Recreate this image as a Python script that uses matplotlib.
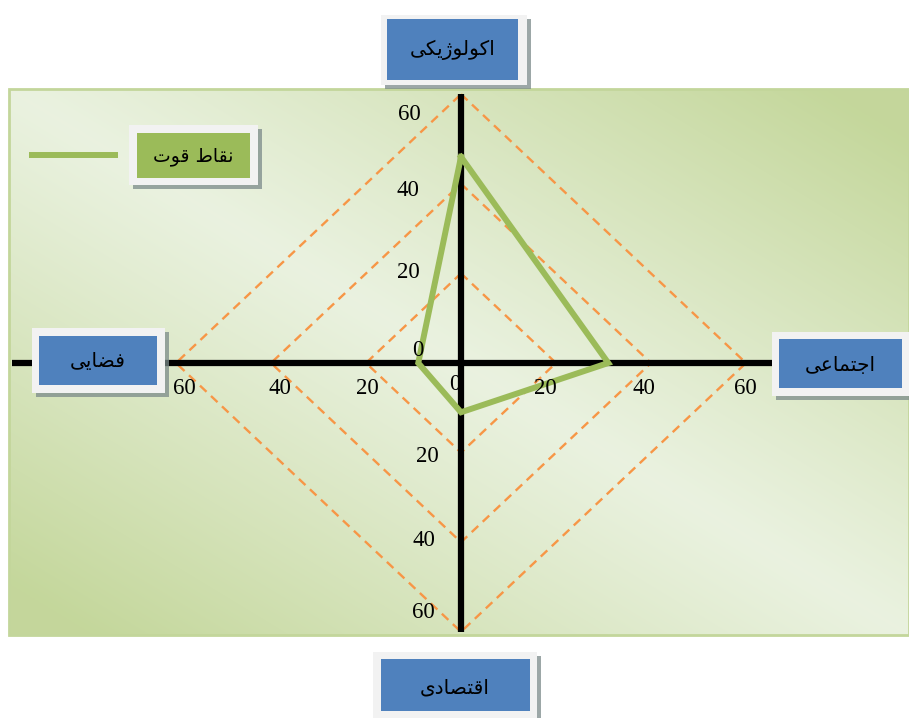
import numpy as np
import matplotlib
matplotlib.use("Agg")
import matplotlib.pyplot as plt
from matplotlib.patches import Rectangle

# ---------------- data ----------------
categories = ["اکولوژیکی", "اجتماعی", "اقتصادی", "فضایی"]   # top, right, bottom, left
series_name = "نقاط قوت"
values = [46, 31, 11, 9]
grid_levels = [20, 40, 60]
tick_labels = ["0", "20", "40", "60"]

# ---------------- simple Arabic/Persian shaping ----------------
FORMS = {  # iso, fin, ini, med
    "ا": ("\uFE8D", "\uFE8E", None, None),
    "د": ("\uFEA9", "\uFEAA", None, None),
    "و": ("\uFEED", "\uFEEE", None, None),
    "ژ": ("\uFB8A", "\uFB8B", None, None),
    "ک": ("\uFB8E", "\uFB8F", "\uFB90", "\uFB91"),
    "ل": ("\uFEDD", "\uFEDE", "\uFEDF", "\uFEE0"),
    "ی": ("\uFBFC", "\uFBFD", "\uFBFE", "\uFBFF"),
    "ج": ("\uFE9D", "\uFE9E", "\uFE9F", "\uFEA0"),
    "ت": ("\uFE95", "\uFE96", "\uFE97", "\uFE98"),
    "م": ("\uFEE1", "\uFEE2", "\uFEE3", "\uFEE4"),
    "ع": ("\uFEC9", "\uFECA", "\uFECB", "\uFECC"),
    "ق": ("\uFED5", "\uFED6", "\uFED7", "\uFED8"),
    "ص": ("\uFEB9", "\uFEBA", "\uFEBB", "\uFEBC"),
    "ف": ("\uFED1", "\uFED2", "\uFED3", "\uFED4"),
    "ض": ("\uFEBD", "\uFEBE", "\uFEBF", "\uFEC0"),
    "ن": ("\uFEE5", "\uFEE6", "\uFEE7", "\uFEE8"),
    "ط": ("\uFEC1", "\uFEC2", "\uFEC3", "\uFEC4"),
}


def shape(s):
    out = []
    n = len(s)
    for i, ch in enumerate(s):
        if ch not in FORMS:
            out.append(ch)
            continue
        f = FORMS[ch]
        dual = f[2] is not None
        prev_ok = i > 0 and s[i - 1] in FORMS and FORMS[s[i - 1]][2] is not None
        next_ok = dual and i < n - 1 and s[i + 1] in FORMS
        if prev_ok and next_ok:
            out.append(f[3])
        elif prev_ok:
            out.append(f[1])
        elif next_ok:
            out.append(f[2])
        else:
            out.append(f[0])
    return "".join(out)[::-1]


# ---------------- layout ----------------
W, H = 909, 718
cx, cy = 461, 363
sx, sy = 4.75, 4.48


def px(x):
    return (x - cx) / sx


def py(y):
    return (cy - y) / sy


fig = plt.figure(figsize=(W / 100, H / 100), dpi=100)
ax = fig.add_axes([0, 0, 1, 1])
ax.set_xlim(px(0), px(W))
ax.set_ylim(py(H), py(0))
ax.axis("off")

# background gradient panel
light = np.array([0.918, 0.949, 0.878])
green = np.array([0.769, 0.843, 0.608])
gx, gy = np.meshgrid(np.linspace(0, 1, 300), np.linspace(0, 1, 200))
t = np.clip(np.abs(gx - gy) * 1.1, 0, 1) ** 1.1
img = light[None, None, :] * (1 - t[..., None]) + green[None, None, :] * t[..., None]
ax.imshow(img, extent=[px(9), px(909), py(635), py(89)], aspect="auto", zorder=0,
          interpolation="bilinear")
ax.add_patch(Rectangle((px(9), py(635)), px(909) - px(9), py(89) - py(635),
                       fill=False, edgecolor="#c3d69b", lw=2, zorder=1))

# dashed diamond gridlines
orange = "#F79646"
for r in grid_levels:
    ax.plot([0, r, 0, -r, 0], [r, 0, -r, 0, r], color=orange, lw=1.7,
            dashes=(3.8, 2.6), zorder=2)

# axis lines
ax.plot([0, 0], [grid_levels[-1], -grid_levels[-1]], color="black", lw=4.5,
        solid_capstyle="butt", zorder=3)
ax.plot([px(12), px(780)], [0, 0], color="black", lw=4.5, solid_capstyle="butt", zorder=3)

# data polygon
top, right, bottom, left = values
ax.plot([0, right, 0, -left, 0], [top, 0, -bottom, 0, top], color="#9BBB59", lw=4.3,
        solid_joinstyle="miter", zorder=4)

# tick labels (pixel positions)
num_font = dict(family="Liberation Serif", fontsize=16.5, color="black", ha="center",
                va="center", zorder=5)
tick_pos = {
    "top": [(418, 351), (408, 272), (408, 190), (409, 114)],
    "bottom": [(455, 385), (427, 456), (424, 540), (423, 613)],
    "right": [None, (545, 388), (644, 388), (745, 388)],
    "left": [None, (367, 388), (280, 388), (184, 388)],
}
for side, plist in tick_pos.items():
    for lab, p in zip(tick_labels, plist):
        if p is None:
            continue
        ax.text(px(p[0]), py(p[1]), lab, **num_font)


def box(outer, inner, fill, text, center, fs):
    ox0, oy0, ox1, oy1 = outer
    ix0, iy0, ix1, iy1 = inner
    # shadow
    ax.add_patch(Rectangle((px(ox0 + 4), py(oy1 + 4)), px(ox1 + 4) - px(ox0 + 4),
                           py(oy0 + 4) - py(oy1 + 4), facecolor="#7b8a8a", alpha=0.75,
                           edgecolor="none", zorder=6))
    ax.add_patch(Rectangle((px(ox0), py(oy1)), px(ox1) - px(ox0), py(oy0) - py(oy1),
                           facecolor="#f2f2f2", edgecolor="none", zorder=7))
    ax.add_patch(Rectangle((px(ix0), py(iy1)), px(ix1) - px(ix0), py(iy0) - py(iy1),
                           facecolor=fill, edgecolor="none", zorder=8))
    ax.text(px(center[0]), py(center[1]), shape(text), family=["DejaVu Sans"],
            fontsize=fs, ha="center", va="center", color="black", zorder=9)


blue = "#4F81BD"
box((381, 15, 527, 85), (387, 19, 518, 80), blue, categories[0], (453, 50), 14.5)
box((772, 332, 912, 396), (779, 339, 902, 388), blue, categories[1], (840, 365), 14.5)
box((373, 652, 537, 722), (381, 659, 530, 711), blue, categories[2], (455, 688), 14.5)
box((32, 328, 165, 393), (39, 336, 157, 385), blue, categories[3], (98, 362), 14.5)

# legend
ax.plot([px(29), px(118)], [py(155), py(155)], color="#9BBB59", lw=4.3,
        solid_capstyle="butt", zorder=5)
box((129, 125, 258, 185), (137, 133, 250, 178), "#9BBB59", series_name, (193, 157), 13.5)

fig.savefig("out.png", dpi=100)
